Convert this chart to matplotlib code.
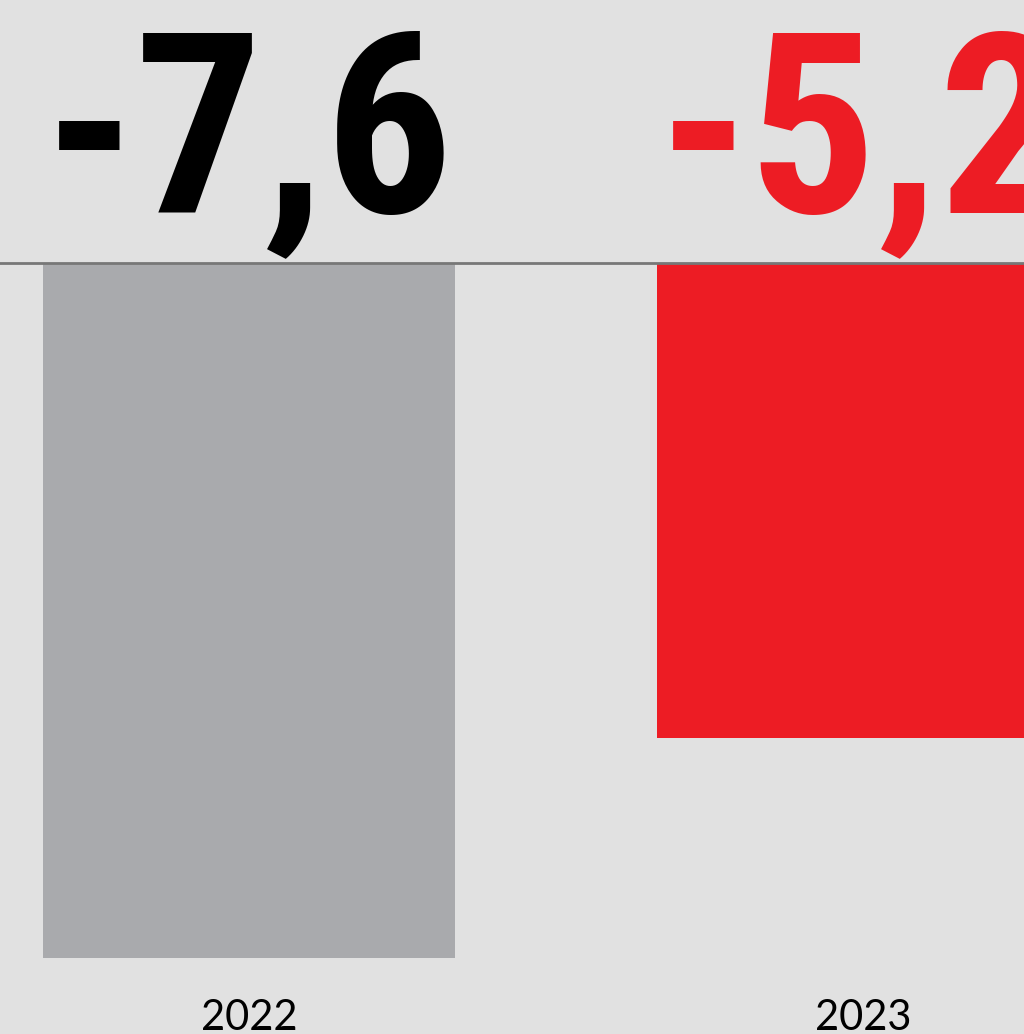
import matplotlib
matplotlib.use("Agg")
import matplotlib.pyplot as plt
from matplotlib import font_manager

years = ["2022", "2023"]
values = [-7.6, -5.2]
value_labels = ["-7,6", "-5,2"]
bar_colors = ["#a9aaad", "#ed1c24"]
label_colors = ["#000000", "#ed1c24"]

bg = "#e1e1e1"
W, H = 1024, 1034
fig = plt.figure(figsize=(W / 100, H / 100), dpi=100, facecolor=bg)
ax = fig.add_axes([0, 0, 1, 1])
ax.set_facecolor(bg)

# pixel geometry -> data scale
px_per_x = 614.0
px_per_y = 91.4
x0_px = 249.0
base_px = 263.0
ax.set_xlim(-x0_px / px_per_x, (W - x0_px) / px_per_x)
ax.set_ylim(-(H - base_px) / px_per_y, base_px / px_per_y)

pos = list(range(len(years)))
ax.bar(pos, values, width=412 / px_per_x, color=bar_colors, zorder=2)
ax.axhline(0, color="#777777", lw=2.0, zorder=3)

avail = {f.name for f in font_manager.fontManager.ttflist}
big_family = "Roboto Condensed" if "Roboto Condensed" in avail else "DejaVu Sans"
small_family = "Lato" if "Lato" in avail else "DejaVu Sans"

for p, lab, c in zip(pos, value_labels, label_colors):
    ax.text(p, (base_px - 212) / px_per_y, lab, ha="center", va="baseline",
            fontsize=182, fontweight="bold", family=big_family, color=c, zorder=4)

for p, y in zip(pos, years):
    ax.text(p, -(1030 - base_px) / px_per_y, y, ha="center", va="baseline",
            fontsize=30, family=small_family, color="#000000", zorder=4)

ax.axis("off")
fig.savefig("out.png", dpi=100, facecolor=bg)
